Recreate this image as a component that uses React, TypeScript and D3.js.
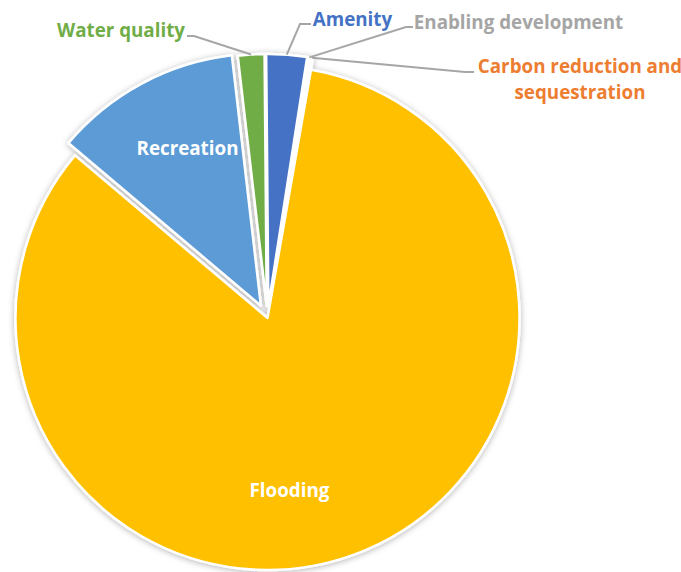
import React from "react";
import * as d3 from "d3";

const categories = ["Amenity", "Enabling development", "Carbon reduction and sequestration", "Flooding", "Recreation", "Water quality"];
const values = [2.6, 0.15, 0.15, 83.4, 12.0, 1.7];
const colors = ["#4472C4", "#A5A5A5", "#ED7D31", "#FFC000", "#5B9BD5", "#70AD47"];
const explode = [12, 12, 12, 0, 14, 12];

const W = 681;
const H = 572;
const cx = 267.5;
const cy = 318;
const R = 252;
const FONT = "'Open Sans', sans-serif";

export default function App() {
  const data = categories.map((c, i) => ({ name: c, value: values[i], i }));
  const pie = d3
    .pie<any>()
    .sort(null)
    .value((d: any) => d.value)
    .startAngle((-0.5 * Math.PI) / 180)
    .endAngle(2 * Math.PI - (0.5 * Math.PI) / 180);
  const arcs = pie(data);
  const arc = d3.arc<any>().innerRadius(0).outerRadius(R);

  const offset = (a: any) => {
    const mid = (a.startAngle + a.endAngle) / 2;
    const e = explode[a.data.i];
    return [e * Math.sin(mid), -e * Math.cos(mid)];
  };
  const outerPt = (a: any, extra = 0) => {
    const mid = (a.startAngle + a.endAngle) / 2;
    const e = explode[a.data.i];
    const r = R + e + extra;
    return [cx + r * Math.sin(mid), cy - r * Math.cos(mid)];
  };

  const line = d3.line();

  const wq = outerPt(arcs[5]);
  const am = outerPt(arcs[0]);
  const en = outerPt(arcs[1]);
  const ca = outerPt(arcs[2]);

  const leaderColor = "#A6A6A6";

  return (
    <svg width={W} height={H} style={{ position: "absolute", left: 0, top: 0, background: "#fff" }}>
      <defs>
        <filter id="sh" x="-20%" y="-20%" width="140%" height="140%">
          <feDropShadow dx="0" dy="1" stdDeviation="3" floodColor="#000" floodOpacity="0.3" />
        </filter>
      </defs>
      <g filter="url(#sh)">
        {arcs.map((a, k) => {
          const [ox, oy] = offset(a);
          return (
            <path
              key={k}
              d={arc(a) as string}
              transform={`translate(${cx + ox},${cy + oy})`}
              fill={colors[a.data.i]}
              stroke="#fff"
              strokeWidth={2.5}
              strokeLinejoin="round"
            />
          );
        })}
      </g>
      <path d={line([[187, 36], [194, 36], wq as any]) as string} fill="none" stroke={leaderColor} strokeWidth={2} />
      <path d={line([[311, 24], [300, 24], am as any]) as string} fill="none" stroke={leaderColor} strokeWidth={2} />
      <path d={line([[413, 27], [406, 27], en as any]) as string} fill="none" stroke={leaderColor} strokeWidth={2} />
      <path d={line([ca as any, [465, 72], [474, 72]]) as string} fill="none" stroke={leaderColor} strokeWidth={2} />

      <g fontFamily={FONT} fontWeight="bold" fontSize={18.8}>
        <text x={121} y={37} textAnchor="middle" fill={colors[5]}>Water quality</text>
        <text x={352.5} y={26} textAnchor="middle" fill={colors[0]}>Amenity</text>
        <text x={518.5} y={29} textAnchor="middle" fill={colors[1]}>Enabling development</text>
        <text x={580} y={73} textAnchor="middle" fill={colors[2]}>Carbon reduction and</text>
        <text x={580} y={99} textAnchor="middle" fill={colors[2]}>sequestration</text>
        <text x={187.5} y={155} textAnchor="middle" fill="#fff">Recreation</text>
        <text x={289.5} y={497} textAnchor="middle" fill="#fff">Flooding</text>
      </g>
    </svg>
  );
}
